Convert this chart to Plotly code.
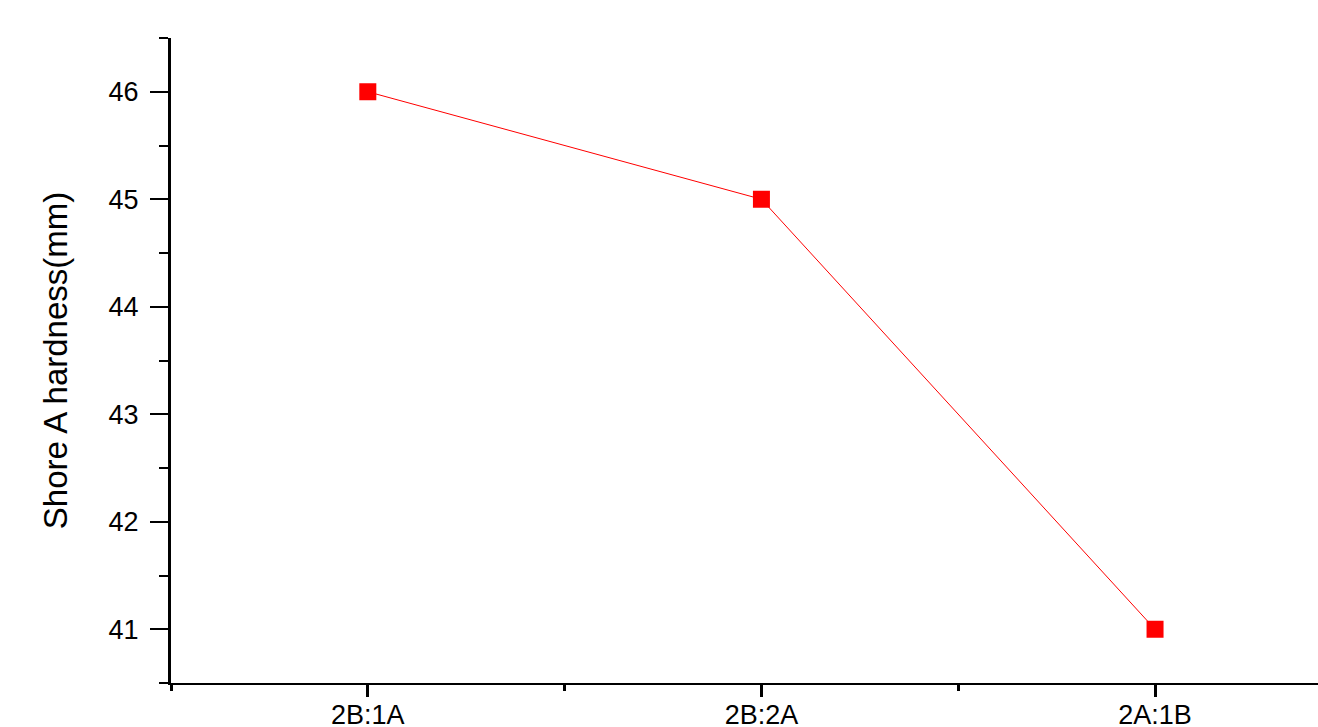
import plotly.graph_objects as go

categories = ["2B:1A", "2B:2A", "2A:1B"]
hardness = [46, 45, 41]
y_ticks = [41, 42, 43, 44, 45, 46]

x_pos = list(range(len(categories)))

fig = go.Figure()
fig.add_trace(go.Scatter(
    x=x_pos, y=hardness, mode="lines+markers",
    line=dict(color="#ff0000", width=1),
    marker=dict(symbol="square", size=17, color="#ff0000"),
    showlegend=False,
))

font = "Liberation Sans, Arial, sans-serif"
fig.update_layout(
    width=1318, height=727,
    margin=dict(l=171, r=0, t=38, b=44),
    plot_bgcolor="white", paper_bgcolor="white",
    font=dict(family=font, color="black"),
    xaxis=dict(
        range=[-0.5, 2.414], tickvals=x_pos, ticktext=categories,
        automargin=False,
        showline=True, linecolor="black", linewidth=2,
        ticks="outside", ticklen=12, tickwidth=3, tickcolor="black",
        minor=dict(tickvals=[-0.5, 0.5, 1.5], ticks="outside", ticklen=6, tickwidth=3, tickcolor="black"),
        showgrid=False, zeroline=False,
        tickfont=dict(size=27, family=font),
        ticklabelstandoff=-5,
    ),
    yaxis=dict(
        range=[40.5, 46.5], tickvals=y_ticks,
        automargin=False,
        showline=True, linecolor="black", linewidth=3,
        ticks="outside", ticklen=18, tickwidth=2, tickcolor="black",
        minor=dict(dtick=0.5, tick0=40.5, ticks="outside", ticklen=9, tickwidth=2, tickcolor="black"),
        showgrid=False, zeroline=False,
        tickfont=dict(size=27, family=font),
        ticklabelstandoff=6,
        title=dict(text="Shore A hardness(mm)", font=dict(size=33, family=font), standoff=32),
    ),
)

fig.write_html(
    "out.html",
    config={"displayModeBar": False},
    post_script="document.body.style.margin='0px';document.body.style.overflow='hidden';",
)
